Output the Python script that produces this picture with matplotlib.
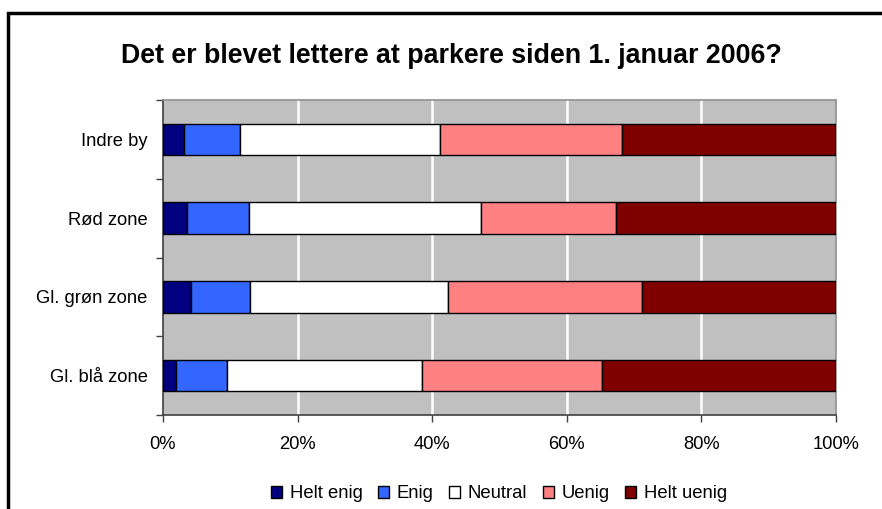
import matplotlib
matplotlib.use("Agg")
import matplotlib.pyplot as plt
from matplotlib.patches import Rectangle
from matplotlib.ticker import PercentFormatter, FixedLocator
import numpy as np

plt.rcParams['font.family'] = ['Liberation Sans', 'DejaVu Sans']

categories = ["Gl. blå zone", "Gl. grøn zone", "Rød zone", "Indre by"]
series_names = ["Helt enig", "Enig", "Neutral", "Uenig", "Helt uenig"]
helt_enig = [1.9, 4.2, 3.6, 3.1]
enig = [7.6, 8.8, 9.2, 8.4]
neutral = [29.0, 29.3, 34.4, 29.7]
uenig = [26.7, 28.9, 20.1, 27.0]
helt_uenig = [34.8, 28.8, 32.7, 31.8]
colors = ["#000080", "#3366FF", "#FFFFFF", "#FF8080", "#800000"]

values = [helt_enig, enig, neutral, uenig, helt_uenig]

fig = plt.figure(figsize=(8.82, 5.09), dpi=100)
ax = fig.add_axes([163 / 882, 1 - 415 / 509, 673 / 882, 315 / 509])

# outer chart frame
fig.patches.append(Rectangle((8 / 882, -0.05), 1.0, 1 - 13 / 509 + 0.05,
                             transform=fig.transFigure, fill=False,
                             edgecolor="black", linewidth=2.5))

ax.set_facecolor("#C0C0C0")
y = np.arange(len(categories))
left = np.zeros(len(categories))
for name, vals, col in zip(series_names, values, colors):
    vals = np.array(vals)
    ax.barh(y, vals, left=left, height=0.4, color=col, edgecolor="black",
            linewidth=1.0, label=name, zorder=3)
    left += vals

ax.set_xlim(0, 100)
ax.set_ylim(-0.5, len(categories) - 0.5)
ax.xaxis.set_major_locator(FixedLocator([0, 20, 40, 60, 80, 100]))
ax.xaxis.set_major_formatter(PercentFormatter(decimals=0))
ax.set_yticks(y)
ax.set_yticklabels(categories)
ax.yaxis.set_minor_locator(FixedLocator(np.arange(-0.5, len(categories), 1.0)))
ax.tick_params(axis="y", which="major", length=0, pad=11, labelsize=13.2)
ax.tick_params(axis="y", which="minor", length=5, width=1, color="#404040")
ax.tick_params(axis="x", length=5, width=1, color="#404040", pad=10, labelsize=13.2)

for x in [20, 40, 60, 80]:
    ax.axvline(x, color="white", linewidth=1.8, zorder=1)

for side in ["top", "right"]:
    ax.spines[side].set_color("#909090")
    ax.spines[side].set_linewidth(1.2)
for side in ["left", "bottom"]:
    ax.spines[side].set_color("#404040")
    ax.spines[side].set_linewidth(1.2)

fig.text(451 / 882, 1 - 56 / 509, "Det er blevet lettere at parkere siden 1. januar 2006?",
         ha="center", va="center", fontsize=19.3, fontweight="bold")

leg = fig.legend(loc="center", bbox_to_anchor=(499 / 882, 1 - 494 / 509), ncol=5,
                 frameon=False, fontsize=13.3, handlelength=0.6, handleheight=0.6,
                 handletextpad=0.4, columnspacing=0.85)

fig.savefig("out.png", dpi=100)
